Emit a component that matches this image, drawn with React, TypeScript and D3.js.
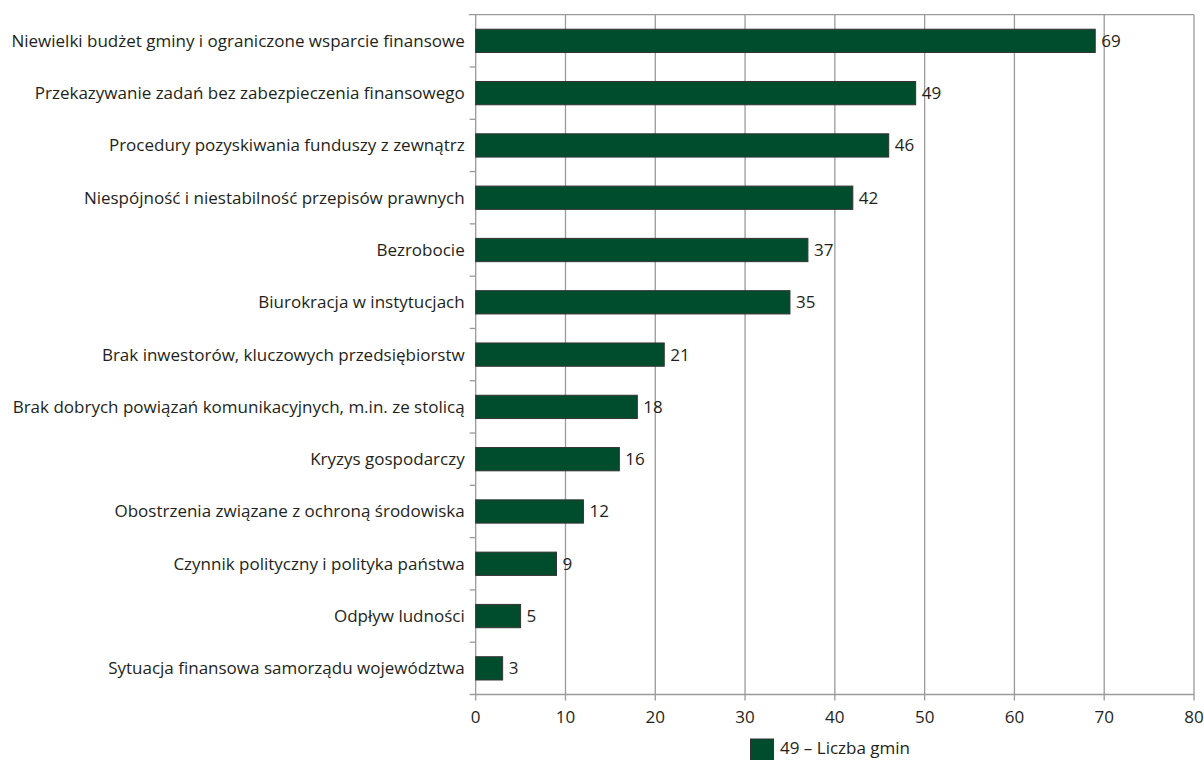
import React from "react";
import * as d3 from "d3";

const categories = [
  "Niewielki budżet gminy i ograniczone wsparcie finansowe",
  "Przekazywanie zadań bez zabezpieczenia finansowego",
  "Procedury pozyskiwania funduszy z zewnątrz",
  "Niespójność i niestabilność przepisów prawnych",
  "Bezrobocie",
  "Biurokracja w instytucjach",
  "Brak inwestorów, kluczowych przedsiębiorstw",
  "Brak dobrych powiązań komunikacyjnych, m.in. ze stolicą",
  "Kryzys gospodarczy",
  "Obostrzenia związane z ochroną środowiska",
  "Czynnik polityczny i polityka państwa",
  "Odpływ ludności",
  "Sytuacja finansowa samorządu województwa",
];
const values = [69, 49, 46, 42, 37, 35, 21, 18, 16, 12, 9, 5, 3];
const xTicks = [0, 10, 20, 30, 40, 50, 60, 70, 80];
const legendLabel = "49 – Liczba gmin";

const W = 1204;
const H = 760;
const left = 475.7;
const right = 1194;
const top = 14.7;
const bottom = 694.5;
const font = "'Open Sans', 'Noto Sans', sans-serif";
const fs = 17;
const textColor = "#231f20";
const gridColor = "#9a9a9a";
const barFill = "#004d2e";

export default function App() {
  const x = d3.scaleLinear().domain([0, 80]).range([left, right]);
  const y = d3.scaleBand<string>().domain(categories).range([top, bottom]).paddingInner(0.555).paddingOuter(0.2775);
  const band = d3.scaleBand<string>().domain(categories).range([top, bottom]);
  return (
    <svg width={W} height={H} style={{ position: "absolute", left: 0, top: 0 }}>
      <rect x={0} y={0} width={W} height={H} fill="#fff" />
      {xTicks.map((t) => (
        <line key={"g" + t} x1={x(t)} x2={x(t)} y1={top} y2={bottom + 6} stroke={gridColor} strokeWidth={1.3} />
      ))}
      <line x1={left - 7} x2={right} y1={top} y2={top} stroke={gridColor} strokeWidth={1.3} />
      <line x1={left - 6} x2={right} y1={bottom} y2={bottom} stroke={gridColor} strokeWidth={1.3} />
      {categories.slice(1).map((c) => (
        <line key={"t" + c} x1={left - 6} x2={left} y1={band(c)!} y2={band(c)!} stroke={gridColor} strokeWidth={1.3} />
      ))}
      {categories.map((c, i) => {
        const cy = y(c)! + y.bandwidth() / 2;
        return (
          <g key={c}>
            <rect x={x(0)} y={y(c)!} width={x(values[i]) - x(0)} height={y.bandwidth()} fill={barFill} stroke="#333" strokeWidth={1} />
            <text x={x(values[i]) + 6} y={cy + 6} fontFamily={font} fontSize={fs} fill={textColor}>
              {values[i]}
            </text>
            <text x={left - 11} y={cy + 6} textAnchor="end" fontFamily={font} fontSize={fs} fill={textColor}>
              {c}
            </text>
          </g>
        );
      })}
      {xTicks.map((t) => (
        <text key={"l" + t} x={x(t)} y={723} textAnchor="middle" fontFamily={font} fontSize={fs} fill={textColor}>
          {t}
        </text>
      ))}
      <rect x={750.5} y={739} width={23} height={22} fill={barFill} stroke="#333" strokeWidth={1} />
      <text x={780} y={753.5} fontFamily={font} fontSize={fs} fill={textColor}>
        {legendLabel}
      </text>
    </svg>
  );
}
